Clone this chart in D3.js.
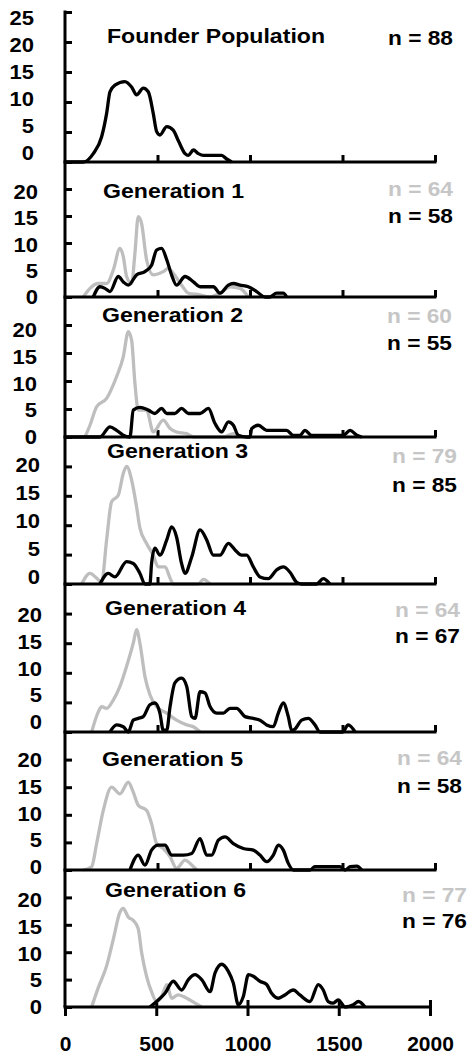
<!DOCTYPE html>
<html>
<head>
<meta charset="utf-8">
<script src="https://cdn.jsdelivr.net/npm/d3@7"></script>
<style>
    body { margin: 0; background: #fff; }
    text { font-family: "Liberation Sans", Arial, Helvetica, sans-serif; font-weight: bold; }
</style>
</head>
<body>
<div id="viz"></div>
<script>

// values: [x, count]
const founder = [[0,0],[99,0],[153,1.4],[198,4.2],[225,8.1],[243,11.7],[270,12.8],[324,13.4],[360,12.5],[387,11.2],[423,12.3],[450,11.7],[477,8.1],[495,5.1],[513,4.5],[550,5.9],[585,5.3],[612,3.6],[649,1.4],[667,1.1],[694,2.0],[721,1.4],[748,1.1],[847,1.1],[874,0.5],[901,0]];

const gen1Gray = [[99,0],[135,1.6],[180,2.5],[225,2.5],[261,5.0],[297,9.0],[315,7.5],[333,3.8],[360,2.5],[378,8.1],[396,14.9],[414,13.6],[441,6.9],[477,4.1],[531,4.7],[558,5.3],[585,4.4],[630,2.2],[667,0.7],[730,0.4],[775,0],[838,0.7],[892,1.9],[946,1.6],[991,0]];
const gen1Black = [[153,0],[189,1.9],[216,1.6],[243,1.0],[288,3.8],[315,2.8],[342,2.2],[387,4.1],[432,4.7],[468,5.9],[495,8.7],[522,9.0],[550,6.9],[576,4.1],[603,2.2],[649,3.8],[694,2.8],[730,1.9],[802,1.9],[838,0.7],[883,2.2],[910,2.5],[946,2.2],[991,1.9],[1036,1.0],[1081,0],[1108,0],[1144,0.7],[1180,0.7],[1198,0]];

const gen2Gray = [[108,0],[135,2.1],[171,5.4],[225,6.9],[279,10.8],[315,14.3],[342,18.8],[360,17.3],[378,9.6],[396,4.8],[441,4.8],[477,0.9],[531,3.0],[568,1.5],[603,0.9],[658,0.6],[694,0],[860,0],[910,0.6],[946,0]];
const gen2Black = [[0,0],[189,0],[243,1.8],[279,1.2],[315,0.3],[351,0],[369,4.8],[405,5.3],[450,4.8],[486,4.2],[522,5.1],[550,4.2],[594,4.2],[630,5.1],[667,4.2],[730,4.2],[775,5.1],[811,2.4],[847,0.9],[883,2.7],[910,2.1],[937,0.3],[982,0],[1000,0],[1009,1.5],[1045,2.1],[1090,1.2],[1198,1.2],[1234,0.3],[1270,0.3],[1297,1.2],[1333,0.3],[1504,0.3],[1541,1.2],[1577,0.3],[1604,0]];

const gen3Gray = [[90,0],[135,1.8],[171,1.0],[198,0.3],[225,7.5],[252,14.0],[288,15.1],[315,18.8],[333,20.0],[360,17.7],[387,13.1],[405,9.5],[441,6.9],[477,4.9],[504,2.9],[541,2.9],[568,1.0],[585,0],[720,0],[748,0.8],[784,0]];
const gen3Black = [[189,0],[234,1.8],[270,1.2],[333,3.8],[369,3.5],[405,1.8],[432,0],[459,0],[468,3.5],[486,6.1],[513,4.9],[550,7.5],[576,9.7],[603,8.0],[630,3.5],[649,1.8],[685,4.6],[730,9.2],[766,7.5],[802,4.9],[838,4.9],[883,6.9],[919,5.8],[955,4.9],[982,4.9],[1018,2.9],[1054,1.2],[1099,0.9],[1144,2.4],[1180,2.9],[1216,2.0],[1252,0.3],[1279,0],[1360,0],[1396,0.9],[1432,0]];

const gen4Gray = [[144,0],[180,3.4],[198,4.3],[225,4.0],[261,5.4],[297,7.7],[333,11.1],[369,15.0],[387,17.3],[405,15.0],[432,9.4],[459,6.3],[495,4.3],[550,3.2],[603,2.0],[658,1.2],[694,0.9],[730,0]];
const gen4Black = [[243,0],[279,1.2],[315,0.9],[342,0],[369,2.0],[396,2.3],[423,2.6],[459,4.6],[486,4.9],[513,3.2],[531,0.3],[550,0.3],[568,4.3],[594,8.3],[630,9.1],[658,7.7],[685,2.6],[703,2.3],[730,6.8],[757,6.6],[784,4.3],[820,3.2],[856,3.2],[892,4.0],[928,4.0],[973,2.6],[1018,2.3],[1054,2.0],[1090,1.2],[1126,0.9],[1153,3.2],[1180,4.9],[1207,2.6],[1225,0.3],[1243,0.5],[1279,2.0],[1315,2.3],[1351,1.2],[1378,0],[1500,0],[1531,1.2],[1568,0]];

const gen5Gray = [[99,0],[144,0.6],[171,4.8],[207,10.8],[252,15.0],[297,13.8],[342,15.9],[369,14.1],[396,11.7],[441,10.8],[468,8.4],[495,4.8],[531,3.9],[568,2.4],[603,0.3],[649,1.8],[685,0.9],[712,0]];
const gen5Black = [[351,0],[396,2.7],[432,0.9],[468,3.6],[504,4.5],[541,4.5],[576,2.7],[640,2.7],[685,3.0],[730,5.7],[766,2.7],[793,2.7],[829,5.4],[865,6.0],[910,4.8],[964,3.9],[1018,3.6],[1054,2.7],[1090,1.5],[1126,2.7],[1153,4.5],[1180,3.6],[1207,1.2],[1234,0],[1324,0],[1351,0.6],[1486,0.6],[1514,0],[1541,0.6],[1577,0.7],[1604,0]];

const gen6Gray = [[146,0],[182,3.5],[228,7.5],[265,12.4],[301,17.3],[319,18.0],[347,16.4],[374,15.8],[401,14.3],[420,9.9],[447,5.6],[474,2.8],[502,1.0],[529,1.9],[558,4.1],[584,1.6],[620,2.2],[667,1.6],[713,0.7],[749,0]];
const gen6Black = [[465,0],[502,1.0],[548,2.5],[593,4.7],[639,3.1],[676,5.0],[713,5.9],[749,5.0],[795,2.8],[822,6.2],[859,7.8],[895,6.5],[922,4.4],[950,0.4],[977,1.9],[1005,5.9],[1032,5.6],[1068,4.7],[1105,4.1],[1132,2.5],[1169,1.6],[1205,2.2],[1251,3.1],[1287,2.2],[1342,1.0],[1388,4.1],[1415,3.1],[1442,1.0],[1470,0.7],[1497,1.3],[1535,0],[1580,0.4],[1608,1.0],[1644,0]];

const titles = ["Founder Population", "Generation 1", "Generation 2", "Generation 3", "Generation 4", "Generation 5", "Generation 6"];
const nGray = [null, 64, 60, 79, 64, 64, 77];
const nBlack = [88, 58, 55, 85, 67, 58, 76];
const grayData = [null, gen1Gray, gen2Gray, gen3Gray, gen4Gray, gen5Gray, gen6Gray];
const blackData = [founder, gen1Black, gen2Black, gen3Black, gen4Black, gen5Black, gen6Black];
const xTickValues = [0, 500, 1000, 1500, 2000];

// layout
const width = 468, height = 1057;
const axisX = 65;
const panelTop = [12, 162, 297, 437, 584, 732, 870];
const panelBottom = [162, 297, 437, 584, 732, 870, 1007];
const xEnd = [435, 435, 435, 435, 435, 435, 430];
const labelZero = [153, 297, 437, 577, 722, 867, 1007];
const labelTop = [18, 192, 330, 465, 615, 760, 900];
const labelRight = [34, 38, 37, 40, 42, 42, 42];
const titleX = [107, 103, 102, 107, 105, 102, 105];
const titleY = [43, 198, 322, 458, 615, 766, 897];
const nX = [388, 388, 387, 392, 395, 397, 402];
const nGrayY = [null, 196, 323, 463, 617, 765, 902];
const nBlackY = [45, 223, 350, 492, 643, 793, 928];

const grayColor = "#bebebe";
const grayText = "#c6c6c6";

const svg = d3.select("#viz")
    .append("svg")
    .attr("width", width)
    .attr("height", height);

titles.forEach(function (title, i) {

    const x = d3.scaleLinear().domain([0, 2000]).range([axisX, xEnd[i]]);
    const y = d3.scaleLinear().domain([0, 25]).range([panelBottom[i], panelTop[i]]);
    const topLabel = i == 0 ? 25 : 20;
    const yLabel = d3.scaleLinear().domain([0, topLabel]).range([labelZero[i], labelTop[i]]);
    const yTicks = d3.range(0, topLabel + 1, 5);

    const g = svg.append("g");

    const line = d3.line()
        .x(d => x(d[0]))
        .y(d => y(d[1]))
        .curve(d3.curveMonotoneX);

    // y ticks point inward
    const yAxis = g.append("g")
        .attr("transform", `translate(${axisX},0)`)
        .call(d3.axisLeft(y).tickValues(yTicks).tickSize(-7).tickFormat(""));
    yAxis.select(".domain").remove();
    yAxis.selectAll("line").attr("stroke", "black").attr("stroke-width", 3);

    g.selectAll(".ylab")
        .data(yTicks)
        .join("text")
        .attr("class", "ylab")
        .attr("text-anchor", "end")
        .attr("dy", "0.36em")
        .attr("font-size", 20)
        .attr("transform", d => `translate(${labelRight[i]},${yLabel(d)}) scale(1.1,1)`)
        .text(d => d);

    // x ticks point up
    const xAxis = g.append("g")
        .attr("transform", `translate(0,${y(0)})`)
        .call(d3.axisBottom(x).tickValues(xTickValues.slice(1)).tickSize(-7).tickFormat(""));
    xAxis.select(".domain").remove();
    xAxis.selectAll("line").attr("stroke", "black").attr("stroke-width", 3);

    if (grayData[i]) {
        g.append("path")
            .datum(grayData[i])
            .attr("fill", "none")
            .attr("stroke", grayColor)
            .attr("stroke-width", 3.3)
            .attr("stroke-linejoin", "round")
            .attr("d", line);
    }

    g.append("path")
        .datum(blackData[i])
        .attr("fill", "none")
        .attr("stroke", "black")
        .attr("stroke-width", 3.3)
        .attr("stroke-linejoin", "round")
        .attr("d", line);

    g.append("line")
        .attr("x1", x(0) - 1.5)
        .attr("x2", x(2000) + 1.5)
        .attr("y1", y(0))
        .attr("y2", y(0))
        .attr("stroke", "black")
        .attr("stroke-width", 3);

    g.append("text")
        .attr("font-size", 21)
        .attr("transform", `translate(${titleX[i]},${titleY[i]}) scale(1.1,1)`)
        .text(title);

    if (nGray[i] != null) {
        g.append("text")
            .attr("font-size", 21)
            .attr("fill", grayText)
            .attr("transform", `translate(${nX[i]},${nGrayY[i]}) scale(1.08,1)`)
            .text("n = " + nGray[i]);
    }

    g.append("text")
        .attr("font-size", 21)
        .attr("transform", `translate(${nX[i]},${nBlackY[i]}) scale(1.08,1)`)
        .text("n = " + nBlack[i]);

    // bottom panel gets labelled axis
    if (i == titles.length - 1) {
        const bottomAxis = g.append("g")
            .attr("transform", `translate(0,${y(0)})`)
            .call(d3.axisBottom(x).tickValues(xTickValues).tickSize(9).tickPadding(20).tickFormat(d3.format("d")));
        bottomAxis.select(".domain").remove();
        bottomAxis.selectAll("line").attr("stroke", "black").attr("stroke-width", 3);
        bottomAxis.selectAll("text")
            .attr("font-size", 21)
            .attr("font-family", "'Liberation Sans', Arial, sans-serif")
            .attr("font-weight", "bold")
            .attr("fill", "black");
    }
});

// one long y axis through all panels
svg.append("line")
    .attr("x1", axisX)
    .attr("x2", axisX)
    .attr("y1", panelTop[0] - 1.5)
    .attr("y2", panelBottom[panelBottom.length - 1])
    .attr("stroke", "black")
    .attr("stroke-width", 3);

</script>
</body>
</html>
